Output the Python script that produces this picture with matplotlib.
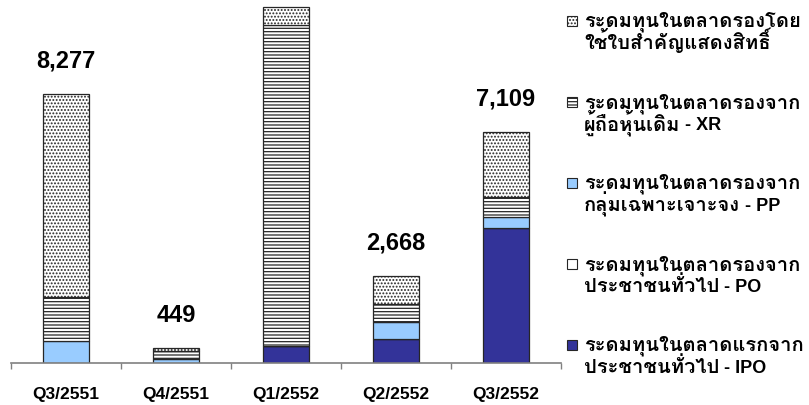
import matplotlib
matplotlib.use("Agg")
import matplotlib.pyplot as plt
from matplotlib.patches import Rectangle
import numpy as np

quarters = ["Q3/2551", "Q4/2551", "Q1/2552", "Q2/2552", "Q3/2552"]

# fund raising by channel, million baht (bottom to top of each stack)
ipo = [0, 0, 523, 745, 4160]          # primary market, public offering
po = [0, 0, 0, 0, 0]                  # secondary market, public offering
pp = [680, 110, 0, 520, 340]          # private placement
xr = [1365, 265, 9877, 560, 620]      # rights offering to existing holders
warrants = [6232, 74, 554, 843, 1989] # exercise of warrants / rights
show_total = [True, True, False, True, True]

labels = [
    "ระดมทุนในตลาดแรกจาก\nประชาชนทั่วไป| - IPO",
    "ระดมทุนในตลาดรองจาก\nประชาชนทั่วไป| - PO",
    "ระดมทุนในตลาดรองจาก\nกลุ่มเฉพาะเจาะจง| - PP",
    "ระดมทุนในตลาดรองจาก\nผู้ถือหุ้นเดิม| - XR",
    "ระดมทุนในตลาดรองโดย\nใช้ใบสำคัญแสดงสิทธิ์",
]
series = [ipo, po, pp, xr, warrants]
styles = [
    dict(facecolor="#333399", hatch=None),
    dict(facecolor="white", hatch=None),
    dict(facecolor="#99ccff", hatch=None),
    dict(facecolor="white", hatch="-----"),
    dict(facecolor="white", hatch="....."),
]

latin = "Liberation Sans"
thai = ["Loma", "Liberation Sans"]
plt.rcParams["hatch.linewidth"] = 0.9

W, H = 809, 405
fig = plt.figure(figsize=(W / 100, H / 100), dpi=100)
ax = fig.add_axes([11 / W, (H - 363) / H, 550 / W, 363 / H])

x = np.arange(len(quarters))
bottom = np.zeros(len(quarters))
for vals, st in zip(series, styles):
    ax.bar(x, vals, width=0.41, bottom=bottom, facecolor=st["facecolor"],
           hatch=st["hatch"], edgecolor="#262626", linewidth=0.9)
    bottom += np.array(vals)

for xi, tot, show in zip(x, bottom, show_total):
    if show:
        ax.annotate(f"{tot:,.0f}", (xi, tot), xytext=(0, 24), textcoords="offset points",
                    ha="center", va="center", fontsize=17, fontweight="bold", family=latin)

ax.set_xlim(-0.5, len(quarters) - 0.5)
ax.set_ylim(0, 11170)
ax.set_yticks([])
for s in ["left", "right", "top"]:
    ax.spines[s].set_visible(False)
ax.spines["bottom"].set_color("#808080")
ax.spines["bottom"].set_linewidth(1.2)

ax.set_xticks(np.arange(len(quarters) + 1) - 0.5)
ax.set_xticklabels([])
ax.tick_params(axis="x", which="major", length=4.5, width=1, color="#808080")
ax.set_xticks(x, minor=True)
ax.set_xticklabels(quarters, minor=True, fontsize=12.5, fontweight="bold", family=latin)
ax.tick_params(axis="x", which="minor", length=0, pad=17)

# legend, listed top to bottom in reverse stacking order
renderer = fig.canvas.get_renderer()
for i, k in enumerate(reversed(range(len(series)))):
    yc = 21 + i * 81
    st = styles[k]
    fig.patches.append(Rectangle((567 / W, 1 - (yc + 5) / H), 10 / W, 10 / H,
                                 transform=fig.transFigure, facecolor=st["facecolor"],
                                 hatch=st["hatch"], edgecolor="#262626", linewidth=0.8))
    for j, line in enumerate(labels[k].split("\n")):
        th, _, code = line.partition("|")
        base = 1 - (yc + 22 * j + 6) / H
        t = fig.text(584 / W, base, th, ha="left", va="baseline",
                     fontsize=14.5, fontweight="bold", family=thai)
        if code:
            # latin suffix set in the Arial-like face on the same baseline
            x1 = t.get_window_extent(renderer).x1
            fig.text(x1 / W, base, code, ha="left", va="baseline",
                     fontsize=13, fontweight="bold", family=latin)

fig.savefig("out.png", dpi=100)
